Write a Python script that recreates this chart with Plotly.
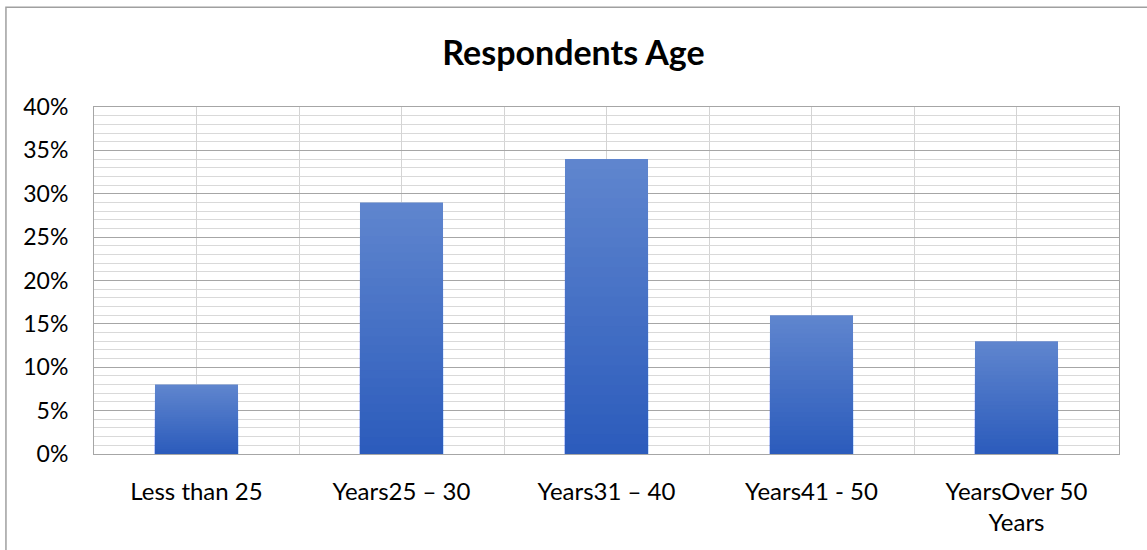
import plotly.graph_objects as go

categories = ["Less than 25", "Years25 – 30", "Years31 – 40", "Years41 - 50", "YearsOver 50<br>Years"]
values = [0.08, 0.29, 0.34, 0.16, 0.13]
y_ticks = [0, 0.05, 0.10, 0.15, 0.20, 0.25, 0.30, 0.35, 0.40]
y_tick_labels = ["0%", "5%", "10%", "15%", "20%", "25%", "30%", "35%", "40%"]

n = len(categories)
xpos = list(range(n))

def lerp(c1, c2, t):
    return "rgb(%d,%d,%d)" % tuple(round(a + (b - a) * t) for a, b in zip(c1, c2))

top_col = (95, 133, 206)
bot_col = (44, 92, 188)
N = 30
fig = go.Figure()
for k in range(N):
    frac = (N - k) / N
    fig.add_trace(go.Bar(
        x=xpos, y=[v * frac for v in values],
        marker=dict(color=lerp(top_col, bot_col, k / (N - 1)), line=dict(width=0)),
        width=0.405, showlegend=False, hoverinfo="skip",
    ))

fig.update_layout(
    width=1147, height=550,
    margin=dict(l=94, r=28, t=107, b=96),
    paper_bgcolor="white", plot_bgcolor="white",
    barmode="overlay",
    font=dict(family="Lato, Calibri, sans-serif", color="#000000", size=24),
    title=dict(text="<b>Respondents Age</b>", x=0.5, xanchor="center",
               y=0.903, yanchor="middle", font=dict(size=34, color="#000000")),
    xaxis=dict(
        range=[-0.5, n - 0.5], tickvals=xpos, ticktext=categories,
        showgrid=True, gridcolor="#d4d4d4", gridwidth=1,
        minor=dict(tickvals=[i - 0.5 for i in range(n + 1)], showgrid=True,
                   gridcolor="#d4d4d4", gridwidth=1),
        showline=True, mirror=True, linecolor="#a6a6a6", linewidth=1,
        ticks="", ticklabelstandoff=16, zeroline=False,
        tickfont=dict(size=24),
    ),
    yaxis=dict(
        range=[0, 0.40], tickvals=y_ticks, ticktext=y_tick_labels,
        showgrid=True, gridcolor="#a6a6a6", gridwidth=1,
        minor=dict(dtick=0.01, showgrid=True, gridcolor="#d9d9d9", gridwidth=1),
        showline=True, mirror=True, linecolor="#a6a6a6", linewidth=1,
        ticks="", ticklabelstandoff=20, zeroline=False,
        tickfont=dict(size=23),
    ),
    shapes=[dict(type="rect", xref="paper", yref="paper",
                 x0=-0.0859, x1=1.1, y0=-0.4, y1=1.2876,
                 line=dict(color="#a0a0a0", width=1.5), layer="below")],
)

fig.write_html("out.html")
